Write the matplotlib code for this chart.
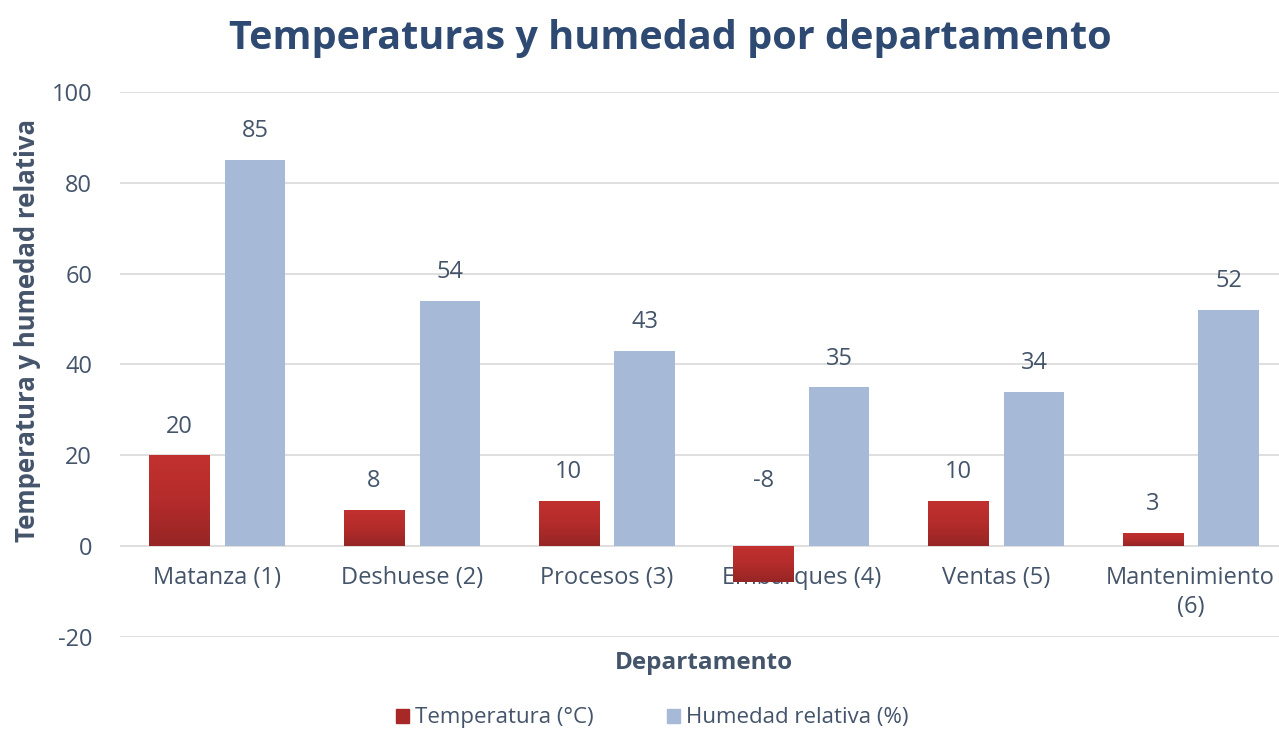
import numpy as np
import matplotlib.pyplot as plt
from matplotlib.colors import LinearSegmentedColormap
from matplotlib.patches import Rectangle

departamentos = ['Matanza (1)', 'Deshuese (2)', 'Procesos (3)', 'Embarques (4)',
                 'Ventas (5)', 'Mantenimiento\n(6)']
temperatura = [20, 8, 10, -8, 10, 3]
humedad = [85, 54, 43, 35, 34, 52]
yticks = [-20, 0, 20, 40, 60, 80, 100]

plt.rcParams['font.family'] = ['Open Sans', 'DejaVu Sans']
plt.rcParams['axes.unicode_minus'] = False
txt = '#44546A'
red_cmap = LinearSegmentedColormap.from_list('rojo', ['#962525', '#B42C2B', '#C2312F'])
blue = '#A6BAD7'

fig = plt.figure(figsize=(12.79, 7.48), dpi=100)
ax = fig.add_axes([120 / 1279, 1 - 637 / 748, 1168 / 1279, (637 - 92) / 748])

x = np.arange(len(departamentos))
w = 0.31
off = 0.195

# gridlines
for t in yticks:
    ax.axhline(t, color='#D9D9D9', lw=1.2, zorder=0)

# red bars with a soft vertical gradient
grad = np.linspace(0, 1, 256).reshape(-1, 1)
for xi, v in zip(x, temperatura):
    x0 = xi - off - w / 2
    bar = Rectangle((x0, min(v, 0)), w, abs(v), facecolor='none', edgecolor='none', zorder=3)
    ax.add_patch(bar)
    im = ax.imshow(grad, extent=[x0, x0 + w, min(v, 0), max(v, 0)], origin='lower',
                   cmap=red_cmap, aspect='auto', zorder=3)
    im.set_clip_path(bar)

ax.bar(x + off, humedad, w, color=blue, zorder=3)

# data labels
for xi, v in zip(x, temperatura):
    ax.annotate(str(v), (xi - off, abs(v)), xytext=(0, 12), textcoords='offset points',
                ha='center', va='bottom', fontsize=17, color=txt, zorder=4)
for xi, v in zip(x, humedad):
    ax.annotate(str(v), (xi + off, v), xytext=(0, 12), textcoords='offset points',
                ha='center', va='bottom', fontsize=17, color=txt, zorder=4)

# category labels sit on the zero line
for xi, name in zip(x, departamentos):
    ax.annotate(name, (xi, 0), xytext=(0, -14), textcoords='offset points',
                ha='center', va='top', fontsize=17, color=txt, zorder=1,
                linespacing=1.3)

ax.set_xlim(-0.5, len(departamentos) - 0.5)
ax.set_ylim(-20, 100)
ax.set_yticks(yticks)
ax.set_xticks([])
ax.tick_params(axis='y', length=0, pad=20, labelsize=17, labelcolor=txt)
for s in ax.spines.values():
    s.set_visible(False)

ax.set_xlabel('Departamento', fontsize=17.5, fontweight='bold', color=txt, labelpad=10)
fig.text(28 / 1279, 1 - 330 / 748, 'Temperatura y humedad relativa', rotation=90,
         ha='center', va='center', fontsize=18.5, fontweight='bold', color=txt)
fig.text(670 / 1279, 1 - 38 / 748, 'Temperaturas y humedad por departamento',
         ha='center', va='center', fontsize=28.5, fontweight='bold', color='#2E4A72')

handles = [Rectangle((0, 0), 1, 1, color='#A82828'), Rectangle((0, 0), 1, 1, color=blue)]
fig.legend(handles, ['Temperatura (°C)', 'Humedad relativa (%)'], loc='center',
           bbox_to_anchor=(652 / 1279, 1 - 718 / 748), ncol=2, frameon=False,
           fontsize=16, labelcolor=txt, handlelength=0.6, handleheight=0.6,
           handletextpad=0.25, columnspacing=3.3)

fig.savefig('out.png', dpi=100)
